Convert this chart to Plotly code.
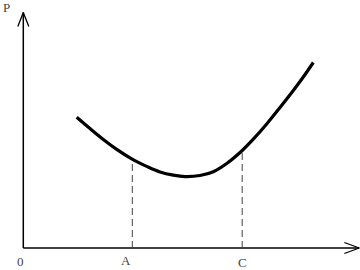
import plotly.graph_objects as go

# Data (units: relative to origin)
curve_x = [53.4, 66.7, 80.0, 93.4, 108.4, 123.4, 136.7, 150.0, 162.0, 176.7, 190.0, 203.4, 218.4, 230.0, 243.4, 256.7, 270.0, 280.0, 290.0]
curve_y = [130.7, 119.4, 108.5, 98.6, 89.1, 81.6, 76.0, 72.8, 71.4, 72.5, 76.3, 84.5, 97.0, 108.8, 124.0, 140.5, 157.5, 171.0, 185.5]
marks_x = [109.0, 218.9]          # A, C
marks_y = [88.8, 97.4]            # curve height at A, C
tick_labels = ["0", "A", "C"]
tick_pos = [0.0, 109.0, 218.9]
tick_shift = [-3, -6, 0]
tick_dy = [-13, -12, -14]
axis_x_end = 336.0
axis_y_end = 235.5
y_label = "P"

fig = go.Figure()

# axes
fig.add_trace(go.Scatter(x=[0, axis_x_end], y=[0, 0], mode="lines",
                         line=dict(color="black", width=1.5), hoverinfo="skip"))
fig.add_trace(go.Scatter(x=[0, 0], y=[0, axis_y_end], mode="lines",
                         line=dict(color="black", width=1.5), hoverinfo="skip"))
# arrowheads (open V)
L, W = 15, 5.5
fig.add_trace(go.Scatter(x=[axis_x_end - L, axis_x_end, axis_x_end - L],
                         y=[W, 0, -W], mode="lines",
                         line=dict(color="black", width=1.3), hoverinfo="skip"))
fig.add_trace(go.Scatter(x=[-W, 0, W],
                         y=[axis_y_end - 14, axis_y_end, axis_y_end - 14], mode="lines",
                         line=dict(color="black", width=1.3), hoverinfo="skip"))

# dashed drop lines
for mx, my in zip(marks_x, marks_y):
    fig.add_trace(go.Scatter(x=[mx, mx], y=[0, my], mode="lines",
                             line=dict(color="#444444", width=1, dash="7px,4px"),
                             hoverinfo="skip"))

# curve
fig.add_trace(go.Scatter(x=curve_x, y=curve_y, mode="lines",
                         line=dict(color="black", width=3.2, shape="spline", smoothing=1.0),
                         hoverinfo="skip"))

font = dict(family="Liberation Serif", size=13, color="#444444")
for lab, pos, sh, dy in zip(tick_labels, tick_pos, tick_shift, tick_dy):
    fig.add_annotation(x=pos, y=dy, text=lab, showarrow=False, font=font, xshift=sh)
fig.add_annotation(x=-17, y=240.5, text=y_label, showarrow=False, font=font)

fig.update_layout(
    width=360, height=270, margin=dict(l=0, r=0, t=0, b=0),
    paper_bgcolor="white", plot_bgcolor="white", showlegend=False,
    xaxis=dict(range=[-23.3, 336.7], visible=False, fixedrange=True),
    yaxis=dict(range=[-22, 248], visible=False, fixedrange=True),
)
fig.write_html("out.html")
